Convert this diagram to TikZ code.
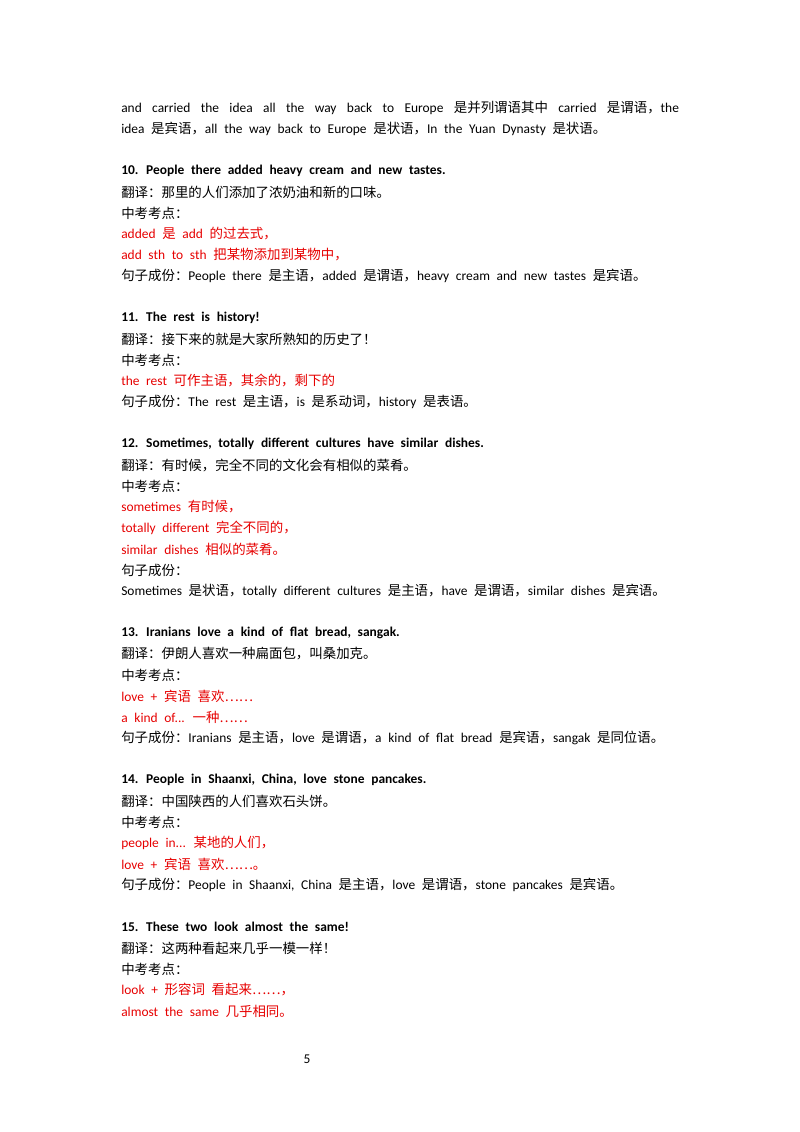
\documentclass[tikz,border=0pt]{standalone}
\usepackage{fontspec}
\setmainfont{Carlito}[WordSpace=2.2]
\newfontfamily\cjk{Noto Sans CJK SC}
\newcommand{\zh}[1]{{\cjk #1}}
\definecolor{kred}{RGB}{230,0,0}
\begin{document}
\begin{tikzpicture}[x=0.7441pt,y=-0.7441pt,
  ln/.style={anchor=west,inner sep=0pt,font=\fontsize{10pt}{12pt}\selectfont},
  rd/.style={ln,text=kred},
  hd/.style={ln,font=\fontsize{10pt}{12pt}\selectfont\bfseries}]
\useasboundingbox (0,0) rectangle (800,1132);
\node[ln] (l1) at (121,108) {\makebox[415pt][s]{and carried the idea all the way back to Europe \zh{是并列谓语其中} carried \zh{是谓语，}the}};
\node[ln] (l2) at (121,129) {idea \zh{是宾语，}all the way back to Europe \zh{是状语，}In the Yuan Dynasty \zh{是状语。}};
\node[hd] (h10) at (121,171) {10. People there added heavy cream and new tastes.};
\node[ln] (a1) at (121,192) {\zh{翻译：那里的人们添加了浓奶油和新的口味。}};
\node[ln] (a2) at (121,213) {\zh{中考考点：}};
\node[rd] (a3) at (121,234) {added \zh{是} add \zh{的过去式，}};
\node[rd] (a4) at (121,255) {add sth to sth \zh{把某物添加到某物中，}};
\node[ln] (a5) at (121,276) {\zh{句子成份：}People there \zh{是主语，}added \zh{是谓语，}heavy cream and new tastes \zh{是宾语。}};
\node[hd] (h11) at (121,318) {11. The rest is history!};
\node[ln] (b1) at (121,339) {\zh{翻译：接下来的就是大家所熟知的历史了！}};
\node[ln] (b2) at (121,360) {\zh{中考考点：}};
\node[rd] (b3) at (121,381) {the rest \zh{可作主语，其余的，剩下的}};
\node[ln] (b4) at (121,402) {\zh{句子成份：}The rest \zh{是主语，}is \zh{是系动词，}history \zh{是表语。}};
\node[hd] (h12) at (121,444) {12. Sometimes, totally different cultures have similar dishes.};
\node[ln] (c1) at (121,465) {\zh{翻译：有时候，完全不同的文化会有相似的菜肴。}};
\node[ln] (c2) at (121,486) {\zh{中考考点：}};
\node[rd] (c3) at (121,507) {sometimes \zh{有时候，}};
\node[rd] (c4) at (121,528) {totally different \zh{完全不同的，}};
\node[rd] (c5) at (121,549) {similar dishes \zh{相似的菜肴。}};
\node[ln] (c6) at (121,570) {\zh{句子成份：}};
\node[ln] (c7) at (121,591) {Sometimes \zh{是状语，}totally different cultures \zh{是主语，}have \zh{是谓语，}similar dishes \zh{是宾语。}};
\node[hd] (h13) at (121,633) {13. Iranians love a kind of flat bread, sangak.};
\node[ln] (d1) at (121,654) {\zh{翻译：伊朗人喜欢一种扁面包，叫桑加克。}};
\node[ln] (d2) at (121,675) {\zh{中考考点：}};
\node[rd] (d3) at (121,696) {love + \zh{宾语\enspace 喜欢……}};
\node[rd] (d4) at (121,717) {a kind of... \zh{一种……}};
\node[ln] (d5) at (121,738) {\zh{句子成份：}Iranians \zh{是主语，}love \zh{是谓语，}a kind of flat bread \zh{是宾语，}sangak \zh{是同位语。}};
\node[hd] (h14) at (121,780) {14. People in Shaanxi, China, love stone pancakes.};
\node[ln] (e1) at (121,801) {\zh{翻译：中国陕西的人们喜欢石头饼。}};
\node[ln] (e2) at (121,822) {\zh{中考考点：}};
\node[rd] (e3) at (121,843) {people in... \zh{某地的人们，}};
\node[rd] (e4) at (121,864) {love + \zh{宾语\enspace 喜欢……。}};
\node[ln] (e5) at (121,885) {\zh{句子成份：}People in Shaanxi, China \zh{是主语，}love \zh{是谓语，}stone pancakes \zh{是宾语。}};
\node[hd] (h15) at (121,927) {15. These two look almost the same!};
\node[ln] (f1) at (121,948) {\zh{翻译：这两种看起来几乎一模一样！}};
\node[ln] (f2) at (121,969) {\zh{中考考点：}};
\node[rd] (f3) at (121,990) {look + \zh{形容词\enspace 看起来……，}};
\node[rd] (f4) at (121,1011) {almost the same \zh{几乎相同。}};
\node[ln,anchor=center] (pg) at (307,1059) {5};
\end{tikzpicture}
\end{document}
